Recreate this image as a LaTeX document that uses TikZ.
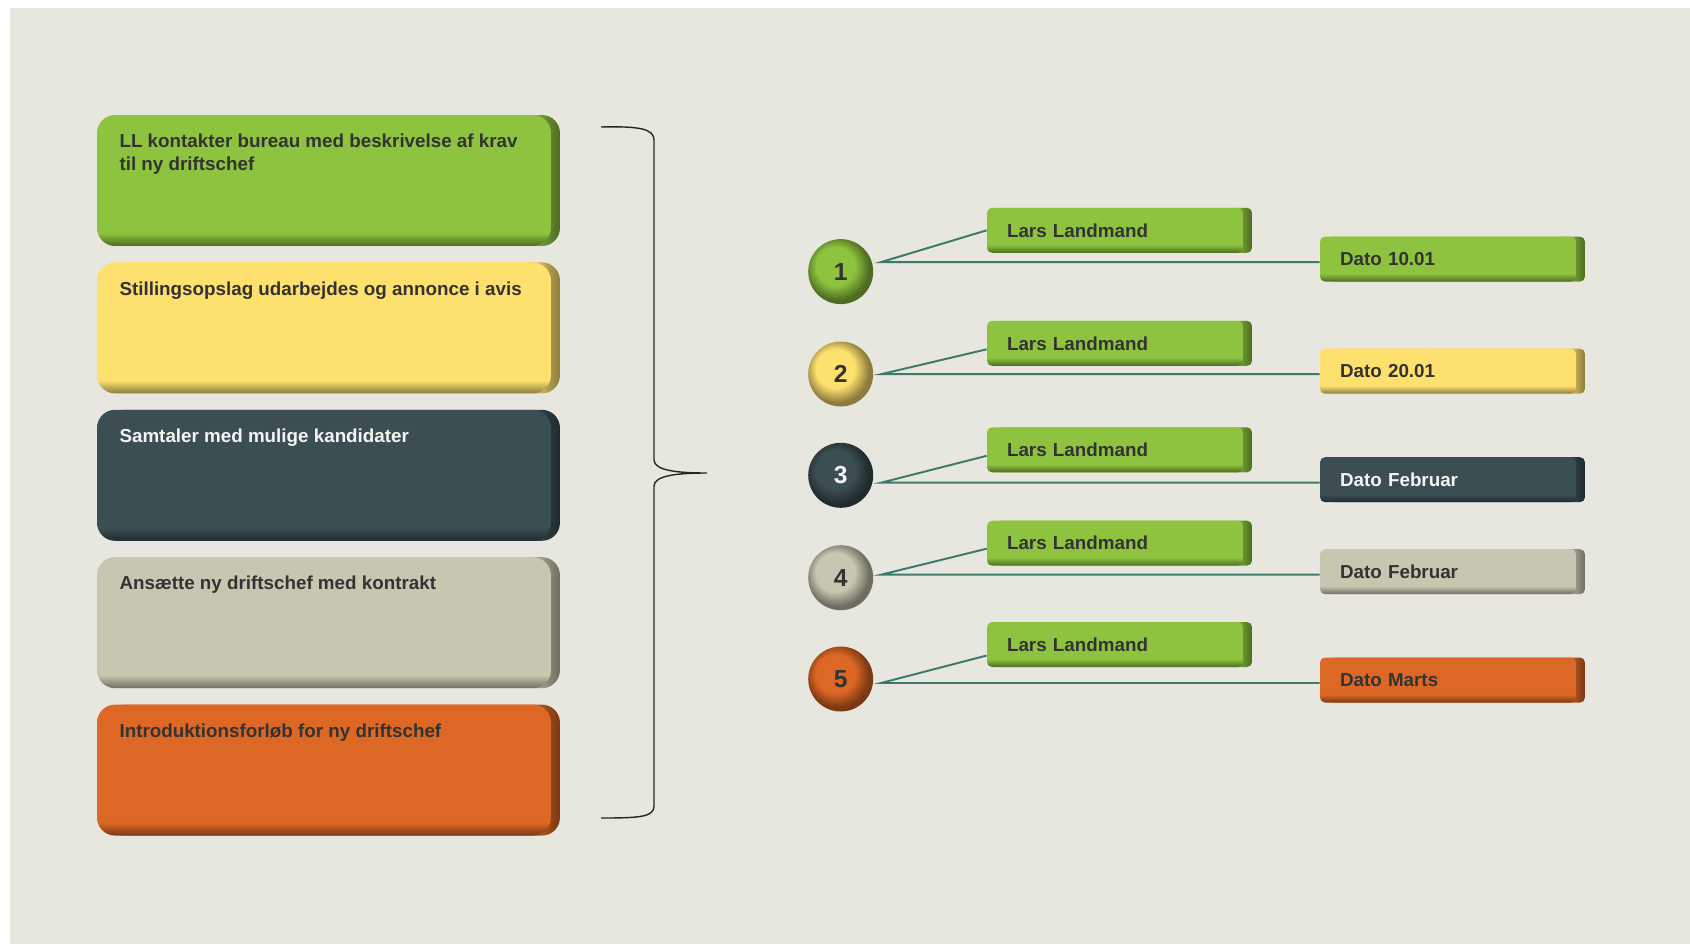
\documentclass[tikz,border=0pt]{standalone}
\usepackage{fontspec}
\setmainfont{Liberation Sans}
\usepackage{tikz}
\usetikzlibrary{positioning, calc, shadows}
\definecolor{PaperGrey}{RGB}{231,231,223}
\definecolor{LeafGreen}{RGB}{141,195,62}
\definecolor{SunYellow}{RGB}{254,224,110}
\definecolor{Slate}{RGB}{59,78,82}
\definecolor{Sand}{RGB}{199,198,176}
\definecolor{RustOrange}{RGB}{221,103,36}
\definecolor{TealLine}{RGB}{58,122,102}
\definecolor{InkGrey}{RGB}{51,51,51}
\definecolor{InkWhite}{RGB}{244,244,244}

% colours used by the shadings below
\colorlet{facec}{white}
\colorlet{rimc}{black}
\pgfdeclareradialshading[facec,rimc]{ballrim}{\pgfpoint{-6bp}{6bp}}{color(0bp)=(facec); color(15bp)=(facec); color(25bp)=(rimc); color(50bp)=(rimc)}
\pgfdeclareverticalshading[facec,rimc]{bevelbig}{100bp}{color(0bp)=(rimc); color(25bp)=(rimc); color(30bp)=(facec); color(100bp)=(facec)}
\pgfdeclareverticalshading[facec,rimc]{bevelsmall}{100bp}{color(0bp)=(rimc); color(25bp)=(rimc); color(34bp)=(facec); color(100bp)=(facec)}
\pgfdeclarehorizontalshading[facec,rimc]{rimside}{100bp}{color(0bp)=(facec); color(71bp)=(facec); color(75bp)=(rimc); color(100bp)=(rimc)}

\tikzset{
  bevel/.style={shade, /utils/exec={\colorlet{facec}{#1}\colorlet{rimc}{#1!55!black}},
    general shadow={shade, shading=rimside, shadow xshift=0.18cm}},
  stepbox/.style={bevel=#1, shading=bevelbig, rounded corners=0.36cm, minimum width=9.08cm, minimum height=2.62cm, inner sep=0pt},
  tagbox/.style={bevel=#1, shading=bevelsmall, rounded corners=0.1cm, text width=4.32cm, inner xsep=0.4cm, inner ysep=0pt, minimum height=0.9cm, align=left},
  ball/.style={circle, minimum size=1.3cm, inner sep=0pt, shade, shading=ballrim,
    /utils/exec={\colorlet{facec}{#1}\colorlet{rimc}{#1!55!black}}},
  link/.style={TealLine, line width=1.1pt},
}
\newcommand{\steptext}[1]{\parbox[c][1.86cm][t]{8.18cm}{\raggedright #1}}

\begin{document}
\begin{tikzpicture}[x=0.02cm, y=-0.02cm]
  % Background
  \fill[white] (0,0) rectangle (1690,944);
  \fill[PaperGrey] (10,8) rectangle (1690,944);
  \useasboundingbox (0,0) rectangle (1690,944);

  % Step boxes
  \begin{scope}[font=\fontsize{10.7}{13.1}\selectfont\bfseries, text=InkGrey]
    \node[stepbox=LeafGreen] (s1) at (324,180.5) {\steptext{LL kontakter bureau med beskrivelse af krav\\til ny driftschef}};
    \node[stepbox=SunYellow] (s2) at (324,327.9) {\steptext{Stillingsopslag udarbejdes og annonce i avis}};
    \node[stepbox=Slate, text=InkWhite] (s3) at (324,475.3) {\steptext{Samtaler med mulige kandidater}};
    \node[stepbox=Sand] (s4) at (324,622.7) {\steptext{Ansætte ny driftschef med kontrakt}};
    \node[stepbox=RustOrange] (s5) at (324,770.1) {\steptext{Introduktionsforløb for ny driftschef}};
  \end{scope}

  % Bracket
  \draw[line width=0.8pt, black!85] (601,127) .. controls (640,126) and (654,129) .. (654,140)
    -- (654,460) .. controls (654,471) and (680,473) .. (707,473)
    .. controls (680,473) and (654,475) .. (654,486)
    -- (654,806) .. controls (654,817) and (640,818) .. (601,818);

  % Timeline rows
  \begin{scope}[font=\fontsize{10.7}{13.1}\selectfont\bfseries]
    \foreach \i/\col/\ink/\cy/\ly/\dy/\off/\date in {
      1/LeafGreen/InkGrey/271.6/230.3/259.1/0/Dato 10.01,
      2/SunYellow/InkGrey/374/343.3/371.2/6/Dato 20.01,
      3/Slate/InkWhite/475.3/449.8/479.7/6/Dato Februar,
      4/Sand/InkGrey/577.7/543.2/571.7/5.5/Dato Februar,
      5/RustOrange/InkGrey/679/644.5/680/11/Dato Marts}
    {
      \node[ball=\col, text=\ink, font=\fontsize{14}{16}\selectfont\bfseries] (c\i) at (840.7,\cy) {\i};
      \node[tagbox=LeafGreen, text=InkGrey] (l\i) at (1115,\ly) {Lars Landmand};
      \node[tagbox=\col, text=\ink] (d\i) at (1448,\dy) {\date};
      \coordinate (j\i) at (881,\dy+3);
      \draw[link] ($(l\i.west)+(0,\off)$) -- (j\i) -- ($(d\i.west)+(0,3)$);
    }
  \end{scope}
\end{tikzpicture}
\end{document}
